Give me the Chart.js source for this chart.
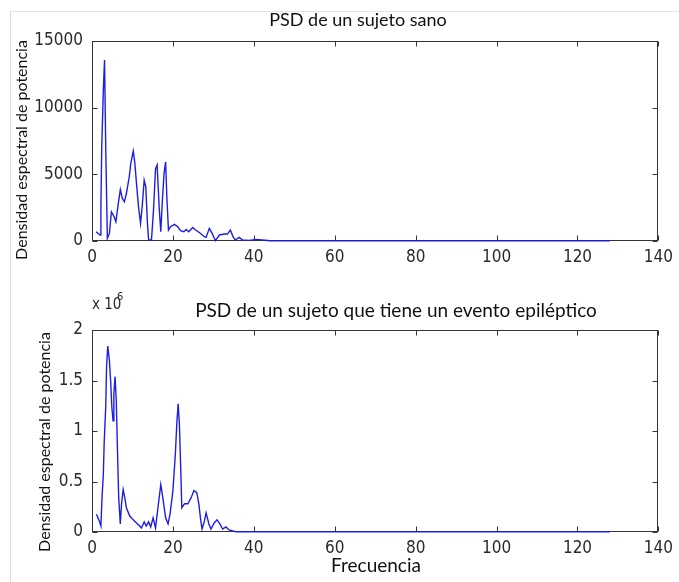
<!DOCTYPE html>
<html>
<head>
<meta charset="utf-8">
<script src="https://cdn.jsdelivr.net/npm/chart.js@4"></script>
<style>
  html, body { margin: 0; padding: 0; background: #fff; }
  #wrap { position: relative; width: 679px; height: 582px; overflow: hidden; }
  canvas { position: absolute; left: 0; }
  #c1 { top: 0; }
  #c2 { top: 290px; }
  #frame { position: absolute; left: 10px; top: 11px; width: 680px; height: 600px;
           border-left: 1px solid #dcdcdc; border-top: 1px solid #e4e4e4; }
</style>
</head>
<body>
<div id="wrap">
  <div id="frame"></div>
  <canvas id="c1" width="679" height="290"></canvas>
  <canvas id="c2" width="679" height="292"></canvas>
</div>
<script>
// ---------- data ----------
const xTicks = [0, 20, 40, 60, 80, 100, 120, 140];
const yTicksTop = [0, 5000, 10000, 15000];
const yTicksBottom = [0, 0.5, 1, 1.5, 2];

const freqTop = [1.0, 2.0, 2.2, 2.4, 2.8, 3.1, 3.4, 3.8, 4.3, 4.8, 5.5, 5.9, 6.5, 7.0, 7.5, 8.0, 8.5, 9.2, 9.6, 10.2,
  10.6, 11.0, 11.5, 12.0, 12.4, 12.9, 13.3, 13.7, 14.0, 14.7, 15.2, 15.7, 16.1, 16.6, 17.0, 17.4, 17.8, 18.2, 18.5, 18.9,
  19.4, 20.4, 21.2, 21.9, 22.7, 23.3, 23.9, 24.9, 25.6, 26.6, 27.8, 28.2, 29.0, 29.7, 30.5, 31.5, 32.7, 33.5, 34.2, 34.8,
  35.4, 36.4, 37.2, 38.9, 40.5, 42.1, 44, 50, 60, 80, 100, 128];
const psdTop = [700, 450, 2560, 6900, 11300, 13570, 6900, 200, 570, 2190, 1800, 1440, 2800, 3860, 3190, 2940, 3560, 4800, 5850, 6750,
  5800, 4300, 2560, 1320, 2560, 4560, 4060, 1320, 75, 75, 2300, 5400, 5700, 2560, 700, 3060, 5050, 5930, 3300, 820,
  1070, 1250, 1070, 770, 700, 870, 700, 1020, 820, 620, 320, 270, 950, 570, 25, 450, 520, 520, 820, 370,
  75, 270, 75, 50, 120, 75, 20, 10, 10, 10, 10, 10];

const freqBottom = [1.1, 1.8, 2.2, 2.5, 2.8, 3.0, 3.4, 3.6, 3.9, 4.3, 4.6, 4.9, 5.2, 5.4, 5.7, 6.0, 6.3, 6.6, 7.0, 7.3,
  7.7, 8.1, 8.5, 9.3, 10.2, 11.0, 11.8, 12.2, 12.9, 13.4, 14.0, 14.5, 15.1, 15.7, 16.3, 17.0, 17.5, 18.2, 18.8, 19.3,
  20.0, 20.6, 21.0, 21.3, 21.6, 21.9, 22.2, 22.9, 23.7, 24.5, 25.2, 25.9, 26.4, 26.8, 27.2, 27.8, 28.2, 28.9, 29.4, 30.2,
  30.9, 31.6, 32.3, 33.1, 33.9, 34.8, 35.6, 40, 60, 80, 100, 128];
const psdBottom = [0.176, 0.11, 0.06, 0.36, 0.57, 0.87, 1.25, 1.64, 1.84, 1.70, 1.50, 1.24, 1.10, 1.37, 1.54, 1.30, 0.81, 0.34, 0.08, 0.28,
  0.42, 0.34, 0.24, 0.16, 0.12, 0.09, 0.06, 0.04, 0.10, 0.06, 0.10, 0.05, 0.14, 0.04, 0.24, 0.47, 0.34, 0.14, 0.08, 0.18,
  0.41, 0.77, 1.10, 1.27, 1.07, 0.67, 0.24, 0.28, 0.28, 0.34, 0.41, 0.39, 0.28, 0.14, 0.03, 0.11, 0.19, 0.08, 0.03, 0.09,
  0.12, 0.08, 0.03, 0.05, 0.02, 0.01, 0.003, 0.002, 0.002, 0.002, 0.002, 0.002];

const titleTop = "PSD de un sujeto sano";
const titleBottom = "PSD de un sujeto que tiene un evento epiléptico";
const yLabel = "Densidad espectral de potencia";
const xLabel = "Frecuencia";

// ---------- styling ----------
const tickFont = { family: "'Liberation Sans Narrow', 'Arial Narrow', 'DejaVu Sans Condensed', 'Liberation Sans', sans-serif", size: 17 };
const textFamily = "Lato, 'Open Sans', sans-serif";
const lineColor = 'rgb(30,30,225)';
const tickColor = '#2a2a2a';

const decor = {
  id: 'decor',
  beforeDatasetsDraw(chart) {
    const ctx = chart.ctx, a = chart.chartArea;
    const xs = chart.scales.x, ys = chart.scales.y;
    ctx.save();
    ctx.strokeStyle = '#333';
    ctx.lineWidth = 1;
    const L = Math.round(a.left) + 0.5, R = Math.round(a.right) - 0.5;
    const T = Math.round(a.top) + 0.5, B = Math.round(a.bottom) - 0.5;
    ctx.strokeRect(L, T, R - L, B - T);
    const tl = 5;
    ctx.beginPath();
    xs.ticks.forEach((t, i) => {
      const px = Math.round(xs.getPixelForTick(i)) + 0.5;
      ctx.moveTo(px, B); ctx.lineTo(px, B - tl);
      ctx.moveTo(px, T); ctx.lineTo(px, T + tl);
    });
    ys.ticks.forEach((t, i) => {
      const py = Math.round(ys.getPixelForTick(i)) + 0.5;
      ctx.moveTo(L, py); ctx.lineTo(L + tl, py);
      ctx.moveTo(R, py); ctx.lineTo(R - tl, py);
    });
    ctx.stroke();
    ctx.restore();
  },
  afterDraw(chart, args, opts) {
    const ctx = chart.ctx;
    (opts.texts || []).forEach(t => {
      ctx.save();
      ctx.fillStyle = t.color || '#111';
      ctx.font = t.font;
      ctx.textAlign = t.align || 'center';
      ctx.textBaseline = 'middle';
      ctx.translate(t.x, t.y);
      if (t.rot) ctx.rotate(t.rot);
      ctx.fillText(t.text, 0, 0);
      ctx.restore();
    });
  }
};

function makeChart(id, xsArr, ysArr, yTicks, yMax, padTop, padBottom, texts) {
  const pts = xsArr.map((x, i) => ({ x: x, y: ysArr[i] }));
  return new Chart(document.getElementById(id), {
    type: 'line',
    data: { datasets: [{ data: pts, borderColor: lineColor, borderWidth: 1.4, pointRadius: 0, tension: 0, fill: false, clip: 4 }] },
    options: {
      responsive: false, animation: false, devicePixelRatio: 1,
      layout: { padding: { left: 0, right: 17, top: padTop, bottom: padBottom } },
      plugins: { legend: { display: false }, tooltip: { enabled: false }, decor: { texts: texts } },
      scales: {
        x: {
          type: 'linear', min: 0, max: 140,
          afterBuildTicks: s => { s.ticks = xTicks.map(v => ({ value: v })); },
          afterFit: s => { s.height = 30; },
          grid: { display: false, drawTicks: false },
          border: { display: false },
          ticks: { autoSkip: false, maxRotation: 0, padding: 6, color: tickColor, font: tickFont, callback: v => String(v) }
        },
        y: {
          type: 'linear', min: 0, max: yMax,
          afterBuildTicks: s => { s.ticks = yTicks.map(v => ({ value: v })); },
          afterFit: s => { s.width = 92; },
          grid: { display: false, drawTicks: false },
          border: { display: false },
          ticks: { autoSkip: false, padding: 9, color: tickColor, font: tickFont, callback: v => String(v) }
        }
      }
    },
    plugins: [decor]
  });
}

makeChart('c1', freqTop, psdTop, yTicksTop, 15000, 41, 19, [
  { text: titleTop, x: 358, y: 20, font: "18px " + textFamily },
  { text: yLabel, x: 22, y: 150, rot: -Math.PI / 2, font: "16px " + textFamily }
]);

makeChart('c2', freqBottom, psdBottom, yTicksBottom, 2, 40, 20, [
  { text: titleBottom, x: 396, y: 21, font: "19px " + textFamily },
  { text: yLabel, x: 45, y: 152, rot: -Math.PI / 2, font: "16px " + textFamily },
  { text: "x 10", x: 92, y: 15, align: 'left', color: tickColor, font: "15px " + tickFont.family },
  { text: "6", x: 117, y: 7, align: 'left', color: tickColor, font: "11px " + tickFont.family },
  { text: xLabel, x: 376, y: 276, font: "19px " + textFamily }
]);
</script>
</body>
</html>
